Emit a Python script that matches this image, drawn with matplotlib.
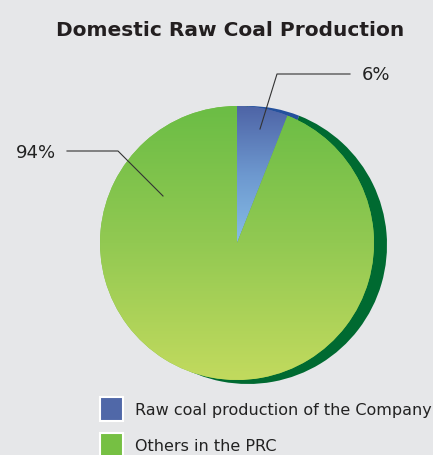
import numpy as np
import matplotlib
matplotlib.use("Agg")
import matplotlib.pyplot as plt
from matplotlib.colors import LinearSegmentedColormap
from matplotlib.patches import Rectangle

title = "Domestic Raw Coal Production"
categories = ["Raw coal production of the Company", "Others in the PRC"]
values = [6, 94]
labels = ["6%", "94%"]

W, H = 433, 456
BG = "#e6e7e9"
fig = plt.figure(figsize=(W / 100, H / 100), dpi=100, facecolor=BG)
ax = fig.add_axes([0, 0, 1, 1])
ax.set_facecolor(BG)

cx, cy, r = 237, H - 244, 137

# shadow
ax.pie(values, startangle=90, counterclock=False, radius=r + 2,
       center=(cx + 11, cy - 2), colors=["#24519d", "#006a31"],
       wedgeprops=dict(linewidth=0))

wedges, _ = ax.pie(values, startangle=90, counterclock=False, radius=r,
                   center=(cx, cy), colors=["#5a72b0", "#7cc24a"],
                   wedgeprops=dict(linewidth=0))

grads = [
    LinearSegmentedColormap.from_list("b", ["#4e64a6", "#6d98cf", "#86bde6"]),
    LinearSegmentedColormap.from_list("g", ["#6bbd45", "#92c952", "#c2da5e"]),
]
exts = [(cx - r, cx + r, cy, cy + r), (cx - r, cx + r, cy - r, cy + r)]
for w, cm, ext in zip(wedges, grads, exts):
    grad = np.linspace(0, 1, 256).reshape(-1, 1)
    im = ax.imshow(grad, cmap=cm, aspect="auto",
                   extent=ext, origin="upper",
                   zorder=w.get_zorder() + 0.1)
    im.set_clip_path(w)

ax.set_xlim(0, W)
ax.set_ylim(0, H)
ax.set_aspect("auto")
ax.axis("off")

# leader lines and labels
lc = "#333333"
ax.plot([260, 277, 350], [H - 130, H - 75, H - 75], color=lc, lw=0.8, zorder=10)
ax.text(362, H - 75, labels[0], fontsize=13, color="#222222", va="center", ha="left",
        family="DejaVu Sans", zorder=10)
ax.plot([163, 118, 67], [H - 197, H - 152, H - 152], color=lc, lw=0.8, zorder=10)
ax.text(56, H - 153, labels[1], fontsize=13, color="#222222", va="center", ha="right",
        family="DejaVu Sans", zorder=10)

ax.text(230, H - 30, title, fontsize=14.5, fontweight="bold", color="#231f20",
        ha="center", va="center", family="DejaVu Sans")

# legend
leg_colors = ["#5068a8", "#76c043"]
for i, (cat, c) in enumerate(zip(categories, leg_colors)):
    y0 = H - 422 - i * 36
    ax.add_patch(Rectangle((100, y0), 23, 24, facecolor=c, edgecolor="white", lw=1.5, zorder=10))
    ax.text(135, y0 + 11, cat, fontsize=11.5, color="#222222", va="center", ha="left",
            family="DejaVu Sans", zorder=10)

fig.savefig("out.png", dpi=100, facecolor=BG)
